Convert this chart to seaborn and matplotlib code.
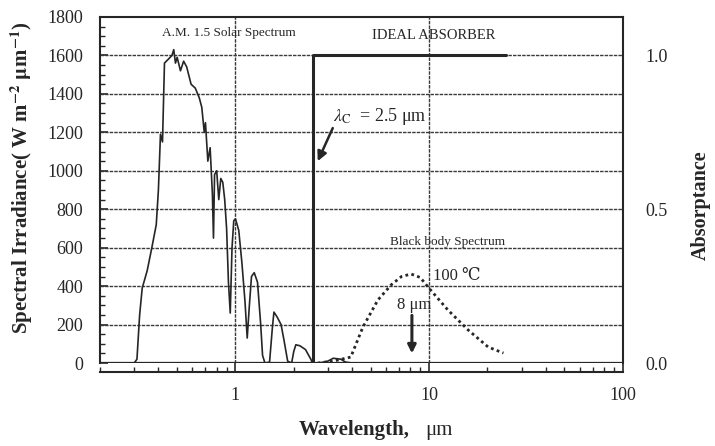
import numpy as np
import pandas as pd
import seaborn as sns
import matplotlib
matplotlib.use("Agg")
import matplotlib.pyplot as plt
from matplotlib.ticker import MultipleLocator, FixedLocator, LogLocator, NullFormatter

# AM 1.5 solar spectrum (wavelength in um, irradiance in W m^-2 um^-1)
solar_wl = [0.30, 0.31, 0.32, 0.33, 0.35, 0.37, 0.39, 0.40, 0.41, 0.42,
            0.43, 0.45, 0.47, 0.48, 0.49, 0.50, 0.52, 0.54, 0.56, 0.59,
            0.62, 0.65, 0.67, 0.69, 0.70, 0.72, 0.74, 0.76, 0.77, 0.78,
            0.80, 0.82, 0.84, 0.86, 0.88, 0.90, 0.92, 0.94, 0.96, 0.98,
            1.00, 1.04, 1.08, 1.12, 1.15, 1.18, 1.21, 1.25, 1.30, 1.35,
            1.38, 1.42, 1.50, 1.55, 1.58, 1.64, 1.72, 1.78, 1.86, 1.95,
            2.00, 2.05, 2.15, 2.30, 2.45, 2.50, 2.70, 3.00, 3.20, 3.50,
            3.70, 4.00]
solar_irr = [0, 20, 250, 390, 480, 600, 720, 900, 1190, 1150,
             1560, 1580, 1600, 1630, 1560, 1590, 1520, 1570, 1540, 1450,
             1430, 1380, 1330, 1200, 1250, 1050, 1120, 880, 650, 980,
             1000, 850, 960, 940, 850, 700, 420, 260, 600, 740,
             750, 690, 520, 320, 130, 300, 450, 470, 420, 200,
             40, 0, 5, 180, 265, 240, 200, 120, 10, 0,
             60, 95, 90, 70, 20, 0, 0, 10, 25, 20,
             5, 0]

# 100 C black body spectrum
bb_wl = [2.66, 3.2, 3.94, 4.55, 5.44, 6.36, 7.2, 8.07, 9.0, 9.88,
         12.5, 15.9, 20.2, 24.2]
bb_irr = [0, 10, 31, 187, 328, 406, 450, 463, 445, 395,
          276, 172, 83, 52]

# Ideal absorber step (absorptance)
absorber_wl = [0.2, 2.5, 2.5, 25.0]
absorber_val = [0.0, 0.0, 1.0, 1.0]

y_ticks = [0, 200, 400, 600, 800, 1000, 1200, 1400, 1600, 1800]
x_ticks = [1, 10, 100]
x_tick_labels = ["1", "10", "100"]
abs_ticks = [0.0, 0.5, 1.0]
abs_tick_labels = ["0.0", "0.5", "1.0"]

sns.set_style("white")
plt.rcParams["font.family"] = ["Liberation Serif", "DejaVu Serif", "DejaVu Sans"]
plt.rcParams["mathtext.fontset"] = "stix"

ink = "#262626"
grid_c = "#3a3a3a"

fig = plt.figure(figsize=(7.15, 4.46), dpi=100)
ax = fig.add_axes([0.140, 0.186, 0.731, 0.776])

solar = pd.DataFrame({"wl": solar_wl, "irr": solar_irr})
bb = pd.DataFrame({"wl": bb_wl, "irr": bb_irr})
absorber = pd.DataFrame({"wl": absorber_wl, "a": absorber_val})

sns.lineplot(data=solar, x="wl", y="irr", ax=ax, estimator=None, sort=False,
             color=ink, lw=1.2, zorder=4)
sns.lineplot(data=bb, x="wl", y="irr", ax=ax, estimator=None, sort=False,
             color=ink, lw=2.0, linestyle=(0, (1, 1.2)), zorder=4)

ax.set_xscale("log")
ax.set_xlim(0.2, 100)
ax.set_ylim(0, 1800)
ax.set_xlabel("")

# grid
for yv in y_ticks[1:-1]:
    ax.axhline(yv, color=grid_c, lw=1.0, linestyle=(0, (2.5, 0.8)), zorder=1)
for xv in [1, 10]:
    ax.axvline(xv, color=grid_c, lw=1.0, linestyle=(0, (2.5, 0.8)), zorder=1)
ax.axhline(0, color=ink, lw=1.6, zorder=3)

for s in ["top", "left", "right"]:
    ax.spines[s].set_color(ink)
    ax.spines[s].set_linewidth(1.5)
ax.spines["bottom"].set_position(("outward", 6.5))
ax.spines["bottom"].set_color(ink)
ax.spines["bottom"].set_linewidth(1.5)

ax.yaxis.set_major_locator(FixedLocator(y_ticks))
ax.yaxis.set_minor_locator(MultipleLocator(50))
ax.set_yticklabels([str(v) for v in y_ticks])
ax.xaxis.set_major_locator(FixedLocator(x_ticks))
ax.set_xticklabels(x_tick_labels)
ax.xaxis.set_minor_locator(LogLocator(base=10, subs=np.arange(2, 10)))
ax.xaxis.set_minor_formatter(NullFormatter())

ax.tick_params(axis="y", which="major", direction="in", length=6, width=1.2,
               color=ink, labelsize=13, labelcolor=ink, pad=12, left=True)
ax.tick_params(axis="y", which="minor", direction="in", length=3.5, width=1.0,
               color=ink, left=True)
ax.tick_params(axis="x", which="major", direction="in", length=6.5, width=1.2,
               color=ink, labelsize=13, labelcolor=ink, pad=11, bottom=True)
ax.tick_params(axis="x", which="minor", direction="in", length=3.5, width=1.0,
               color=ink, bottom=True)

# absorptance axis
ax2 = ax.twinx()
sns.lineplot(data=absorber, x="wl", y="a", ax=ax2, estimator=None, sort=False,
             color=ink, lw=2.2, zorder=5)
ax2.set_ylim(0, 1.125)
ax2.set_xlim(0.2, 100)
ax2.set_yticks(abs_ticks)
ax2.set_yticklabels(abs_tick_labels)
ax2.tick_params(axis="y", length=0, labelsize=13, labelcolor=ink, pad=16)
ax2.set_ylabel("Absorptance", fontsize=14.5, fontweight="bold", color=ink)
ax2.yaxis.set_label_coords(1.130, 0.457)
for s in ax2.spines.values():
    s.set_visible(False)
ax2.set_xlabel("")

ax.set_ylabel(r"Spectral Irradiance( W m$^{\mathbf{-2}}$ $\mathbf{\mu}$m$^{\mathbf{-1}}$)",
              fontsize=15, fontweight="bold", color=ink)
ax.yaxis.set_label_coords(-0.124, 0.535)
fig.text(0.418, 0.035, "Wavelength,", fontsize=15, fontweight="bold",
         color=ink, ha="left", va="center")
fig.text(0.595, 0.035, "μm", fontsize=15, color=ink, ha="left", va="center")

# annotations
ax.text(0.93, 1716, "A.M. 1.5 Solar Spectrum", fontsize=9.5, color=ink,
        ha="center", va="center", zorder=6)
ax.text(10.6, 1706, "IDEAL ABSORBER", fontsize=10.5, color=ink,
        ha="center", va="center", zorder=6)
ax.text(3.2, 1280, r"$\lambda_{\rm C}$  = 2.5 μm", fontsize=13, color=ink,
        ha="left", va="center", zorder=6)
ax.annotate("", xy=(2.66, 1050), xytext=(3.18, 1222),
            arrowprops=dict(arrowstyle="-|>", color=ink, lw=1.8,
                            mutation_scale=14, shrinkA=0, shrinkB=0), zorder=6)
ax.text(12.5, 629, "Black body Spectrum", fontsize=9.5, color=ink,
        ha="center", va="center", zorder=6)
ax.text(10.5, 452, "100 ℃", fontsize=12, color=ink, ha="left", va="center",
        zorder=6)
ax.text(8.4, 302, "8 μm", fontsize=12, color=ink, ha="center", va="center",
        zorder=6)
ax.annotate("", xy=(8.15, 50), xytext=(8.15, 248),
            arrowprops=dict(arrowstyle="-|>", color=ink, lw=2.2,
                            mutation_scale=12, shrinkA=0, shrinkB=0), zorder=6)

fig.savefig("out.png", dpi=100, facecolor="white")
